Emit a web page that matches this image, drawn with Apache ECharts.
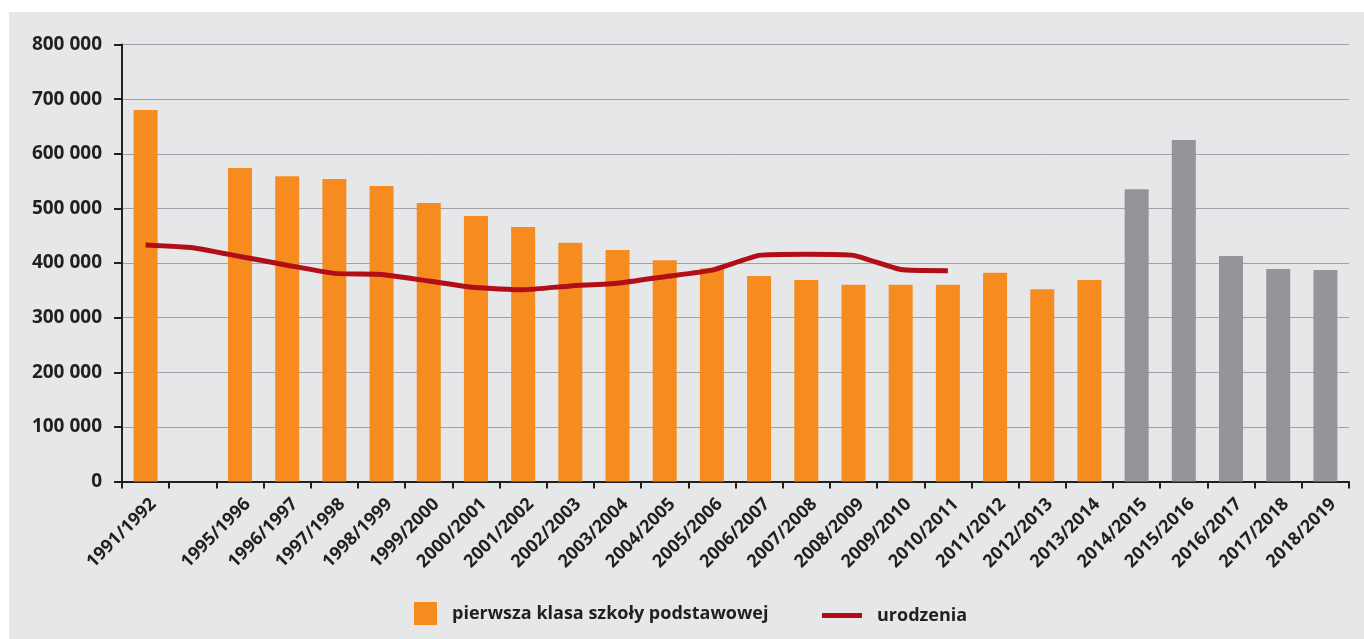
<!DOCTYPE html>
<html>
<head>
<meta charset="utf-8">
<script src="https://cdn.jsdelivr.net/npm/echarts@6/dist/echarts.min.js"></script>
<style>
  html, body { margin: 0; padding: 0; background: #ffffff; width: 1364px; height: 639px; overflow: hidden; }
  #chart { position: absolute; left: 9px; top: 12px; width: 1355px; height: 627px; background: #e6e7e9; }
</style>
</head>
<body>
<div id="chart"></div>
<script>
const categories = ['1991/1992', '', '1995/1996', '1996/1997', '1997/1998', '1998/1999', '1999/2000',
  '2000/2001', '2001/2002', '2002/2003', '2003/2004', '2004/2005', '2005/2006', '2006/2007',
  '2007/2008', '2008/2009', '2009/2010', '2010/2011', '2011/2012', '2012/2013', '2013/2014',
  '2014/2015', '2015/2016', '2016/2017', '2017/2018', '2018/2019'];

const firstGrade = [680000, null, 574000, 559000, 554000, 541000, 510000, 486000, 466000, 437000,
  424000, 405000, 390000, 376000, 369000, 360000, 360000, 360000, 382000, 352000, 369000,
  null, null, null, null, null];

const firstGradeForecast = [null, null, null, null, null, null, null, null, null, null,
  null, null, null, null, null, null, null, null, null, null, null,
  535000, 625000, 413000, 389000, 387000];

const births = [433000, 428000, 412000, 396000, 381000, 379000, 367000, 355000, 351000, 358000,
  363000, 375000, 387000, 414000, 416000, 414000, 388000, 386000];

const yTicks = [0, 100000, 200000, 300000, 400000, 500000, 600000, 700000, 800000];

const seriesNames = ['pierwsza klasa szkoły podstawowej', 'urodzenia'];

const textColor = '#231f20';
const fontFamily = '"Open Sans", "Noto Sans", sans-serif';

const chart = echarts.init(document.getElementById('chart'), null, { renderer: 'canvas' });

function fmt(v) {
  return String(v).replace(/\B(?=(\d{3})+(?!\d))/g, ' ');
}

chart.setOption({
  animation: false,
  backgroundColor: 'transparent',
  grid: { left: 113, right: 15, top: 32.5, bottom: 157.5, containLabel: false },
  legend: [
    {
      data: [{ name: seriesNames[0], icon: 'rect' }],
      left: 405, top: 590, padding: 0,
      itemWidth: 23, itemHeight: 23,
      textStyle: { color: textColor, fontFamily, fontWeight: 700, fontSize: 18, lineHeight: 23, padding: [0, 0, 0, 10] }
    },
    {
      data: [{ name: seriesNames[1], icon: 'rect' }],
      left: 813, top: 592, padding: 0,
      itemWidth: 40, itemHeight: 5,
      textStyle: { color: textColor, fontFamily, fontWeight: 700, fontSize: 18, lineHeight: 23, padding: [0, 0, 0, 10] }
    }
  ],
  xAxis: {
    type: 'category',
    data: categories,
    boundaryGap: true,
    axisLine: { lineStyle: { color: textColor, width: 2 } },
    axisTick: { show: true, alignWithLabel: false, interval: 0, length: 7, lineStyle: { color: textColor, width: 2 } },
    axisLabel: {
      interval: 0, rotate: 45, margin: 12, verticalAlign: 'top', lineHeight: 22,
      color: textColor, fontFamily, fontWeight: 700, fontSize: 18
    },
    splitLine: { show: false }
  },
  yAxis: {
    type: 'value',
    min: yTicks[0], max: yTicks[yTicks.length - 1], interval: yTicks[1] - yTicks[0],
    axisLine: { show: true, lineStyle: { color: textColor, width: 2 } },
    axisTick: { show: true, length: 8, lineStyle: { color: textColor, width: 2 } },
    axisLabel: {
      margin: 20, color: textColor, fontFamily, fontWeight: 700, fontSize: 19,
      formatter: fmt
    },
    splitLine: { show: true, lineStyle: { color: '#9fa1a4', width: 1 } }
  },
  series: [
    {
      name: seriesNames[0], type: 'bar', stack: 'b', data: firstGrade, barWidth: 24,
      itemStyle: { color: '#f68b20' }
    },
    {
      name: 'prognoza', type: 'bar', stack: 'b', data: firstGradeForecast, barWidth: 24,
      itemStyle: { color: '#949599' }
    },
    {
      name: seriesNames[1], type: 'line', data: births, symbol: 'none', smooth: 0.15,
      lineStyle: { color: '#b20e17', width: 5 }, itemStyle: { color: '#b20e17' }, z: 5
    }
  ]
});
</script>
</body>
</html>
